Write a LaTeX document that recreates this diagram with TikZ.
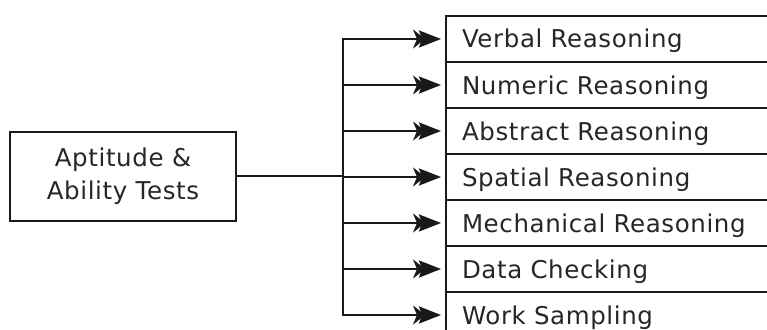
\documentclass[tikz,border=0pt]{standalone}
\usepackage{fontspec}
\setmainfont{DejaVu Sans}[LetterSpace=2.5]
\usetikzlibrary{arrows.meta}
\begin{document}
\begin{tikzpicture}[x=1pt,y=-1pt,
  box/.style={draw=black!90, line width=2pt, rectangle, inner ysep=0pt, font=\fontsize{24.5}{33}\selectfont, text=black!85},
  rowbox/.style={box, anchor=north west, minimum height=46pt, text width=330pt, inner xsep=16pt, align=left, text height=20pt, text depth=2pt},
  trunk/.style={draw=black!90, line width=2pt},
  conn/.style={trunk, -{Stealth[length=12pt,width=19pt,inset=4pt,sep=-6pt] Stealth[length=22pt,width=17pt,inset=3pt]}, shorten >=4pt}]
\clip (0,0) rectangle (767,329);
\node[box, minimum width=226pt, minimum height=89pt, align=center] (apt) at (123,176) {Aptitude \&\\Ability Tests};
\node[rowbox] (r1) at (445,15) {Verbal Reasoning};
\node[rowbox] (r2) at (445,61) {Numeric Reasoning};
\node[rowbox] (r3) at (445,107) {Abstract Reasoning};
\node[rowbox] (r4) at (445,153) {Spatial Reasoning};
\node[rowbox] (r5) at (445,199) {Mechanical Reasoning};
\node[rowbox] (r6) at (445,245) {Data Checking};
\node[rowbox] (r7) at (445,291) {Work Sampling};
\coordinate (j) at (343,176);
\draw[trunk] (apt.east) -- (j);
\foreach \i in {1,...,7} \draw[conn] (j) |- (r\i.west);
\end{tikzpicture}
\end{document}
